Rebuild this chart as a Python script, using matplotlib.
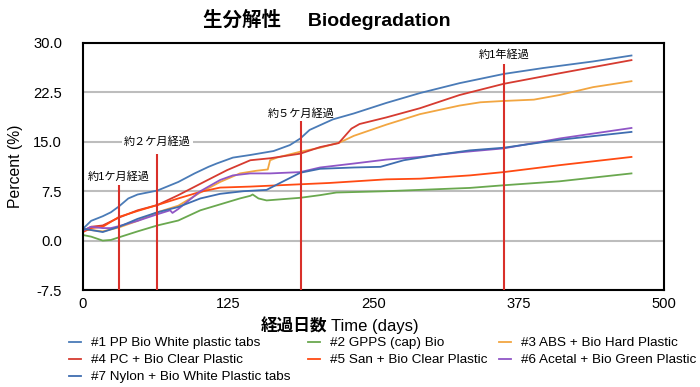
import matplotlib
matplotlib.use('Agg')
import matplotlib.pyplot as plt

plt.rcParams['font.family'] = ['Liberation Sans', 'Noto Sans CJK JP']

# データ
pp_days = [0, 7, 17, 24, 31, 39, 47, 64, 82, 96, 108, 115, 129, 144, 164, 178, 187, 195, 205, 215, 233, 261, 290, 324, 362, 396, 439, 472]
pp_vals = [1.8, 3.0, 3.7, 4.3, 5.2, 6.4, 7.0, 7.6, 8.9, 10.2, 11.2, 11.7, 12.6, 13.0, 13.6, 14.5, 15.5, 16.8, 17.6, 18.4, 19.3, 20.9, 22.4, 23.9, 25.3, 26.2, 27.2, 28.1]

gpps_days = [0, 7, 17, 24, 31, 47, 64, 82, 101, 118, 135, 144, 146, 151, 158, 187, 204, 218, 261, 333, 362, 410, 472]
gpps_vals = [0.85, 0.6, 0.0, 0.1, 0.5, 1.4, 2.3, 3.05, 4.6, 5.5, 6.4, 6.8, 7.0, 6.4, 6.1, 6.5, 6.9, 7.3, 7.5, 8.0, 8.4, 9.0, 10.2]

abs_days = [0, 7, 17, 31, 47, 64, 82, 101, 118, 135, 149, 159, 161, 167, 187, 204, 221, 233, 261, 290, 324, 342, 362, 388, 410, 439, 472]
abs_vals = [1.6, 1.6, 1.4, 2.0, 3.0, 4.3, 5.3, 7.3, 8.9, 10.2, 10.6, 10.8, 12.2, 12.6, 13.5, 14.1, 14.9, 15.9, 17.6, 19.2, 20.5, 21.0, 21.2, 21.4, 22.1, 23.3, 24.2]

pc_days = [0, 7, 17, 31, 47, 64, 82, 104, 124, 144, 161, 187, 204, 220, 225, 231, 238, 261, 290, 324, 362, 410, 472]
pc_vals = [1.5, 2.1, 2.3, 3.5, 4.6, 5.4, 6.9, 8.9, 10.7, 12.2, 12.5, 13.2, 14.2, 14.8, 15.8, 17.0, 17.7, 18.7, 20.1, 22.1, 23.8, 25.4, 27.4]

san_days = [0, 7, 17, 31, 47, 64, 82, 101, 118, 144, 187, 212, 261, 290, 333, 362, 410, 472]
san_vals = [1.3, 1.9, 2.1, 3.6, 4.5, 5.4, 6.4, 7.4, 8.05, 8.2, 8.55, 8.75, 9.3, 9.4, 9.9, 10.4, 11.45, 12.7]

acetal_days = [0, 7, 17, 24, 31, 47, 64, 75, 77, 82, 101, 118, 129, 144, 161, 187, 204, 233, 261, 290, 324, 362, 410, 472]
acetal_vals = [1.5, 2.1, 1.9, 1.9, 2.2, 3.0, 4.0, 4.6, 4.2, 4.8, 7.5, 9.2, 9.9, 10.2, 10.2, 10.4, 11.1, 11.7, 12.3, 12.7, 13.4, 14.0, 15.5, 17.1]

nylon_days = [0, 7, 17, 31, 47, 64, 82, 101, 118, 138, 158, 169, 187, 204, 233, 256, 276, 304, 333, 362, 410, 472]
nylon_vals = [1.8, 1.6, 1.3, 2.1, 3.3, 4.3, 5.1, 6.4, 7.1, 7.5, 7.7, 8.7, 10.3, 10.9, 11.1, 11.2, 12.2, 13.0, 13.7, 14.1, 15.3, 16.5]

labels = ['#1 PP Bio White plastic tabs', '#2 GPPS (cap) Bio', '#3 ABS + Bio Hard Plastic',
          '#4 PC + Bio Clear Plastic', '#5 San + Bio Clear Plastic', '#6 Acetal + Bio Green Plastic',
          '#7 Nylon + Bio White Plastic tabs']
colors = ['#4a7bb7', '#6aa84f', '#f2a641', '#d63b30', '#ff4a12', '#9056c6', '#3f6db0']

# 経過マーカー
mark_days = [31, 64, 188, 362]
mark_tops = [8.5, 13.1, 18.2, 26.8]
mark_texts = ['約1ケ月経過', '約２ケ月経過', '約５ケ月経過', '約1年経過']
mark_text_y = [9.8, 15.1, 19.3, 28.3]

x_ticks = [0, 125, 250, 375, 500]
y_ticks = [-7.5, 0.0, 7.5, 15.0, 22.5, 30.0]

fig = plt.figure(figsize=(7, 3.87), dpi=100)
ax = fig.add_axes([83 / 700, 1 - 290 / 387, 581 / 700, 247 / 387])

series = [(pp_days, pp_vals), (gpps_days, gpps_vals), (abs_days, abs_vals), (pc_days, pc_vals),
          (san_days, san_vals), (acetal_days, acetal_vals), (nylon_days, nylon_vals)]
lines = []
for (d, v), c, lab in zip(series, colors, labels):
    ln, = ax.plot(d, v, color=c, lw=1.3, label=lab, zorder=2)
    lines.append(ln)

# 経過線
ax.vlines(mark_days, -7.5, mark_tops, color='#d9302a', lw=1.5, zorder=3)
for d, t, ty in zip(mark_days, mark_texts, mark_text_y):
    # 白背景はグリッド線だけを隠す（データ線より下）
    ax.text(d, ty, t, ha='center', va='center', fontsize=8,
            bbox=dict(facecolor='white', edgecolor='none', pad=1.5), zorder=1)

ax.set_xlim(0, 500)
ax.set_ylim(-7.5, 30)
ax.set_xticks(x_ticks)
ax.set_yticks(y_ticks)
ax.set_yticklabels(['%.1f' % y for y in y_ticks])
ax.tick_params(axis='both', length=0, labelsize=10.6)
ax.tick_params(axis='y', pad=15)
ax.tick_params(axis='x', pad=5)
ax.yaxis.grid(True, color='#bdbdbd', lw=1.5, zorder=0)
ax.set_axisbelow(True)
for s in ax.spines.values():
    s.set_linewidth(1.5)
    s.set_color('black')

ax.set_ylabel('Percent (%)', fontsize=11.3, labelpad=7)

# タイトルと軸ラベル
fig.text(327 / 700, 1 - 19 / 387, '生分解性     Biodegradation', ha='center', va='center',
         fontsize=14, fontweight='bold')
fig.text(327 / 700, 1 - 327 / 387, '経過日数', ha='right', va='center', fontsize=12, fontweight='bold')
fig.text(331 / 700, 1 - 327 / 387, 'Time (days)', ha='left', va='center', fontsize=12)

# 凡例（3列をそれぞれ配置）
columns = [[0, 3, 6], [1, 4], [2, 5]]
col_x = [69, 308, 499]
for idx, cx in zip(columns, col_x):
    fig.legend([lines[i] for i in idx], [labels[i] for i in idx], loc='upper left',
               bbox_to_anchor=(cx / 700, 1 - 337 / 387), frameon=False, fontsize=9.7,
               handlelength=0.9, handletextpad=0.7, labelspacing=0.34,
               borderpad=0, borderaxespad=0)

fig.savefig('out.png', dpi=100)
